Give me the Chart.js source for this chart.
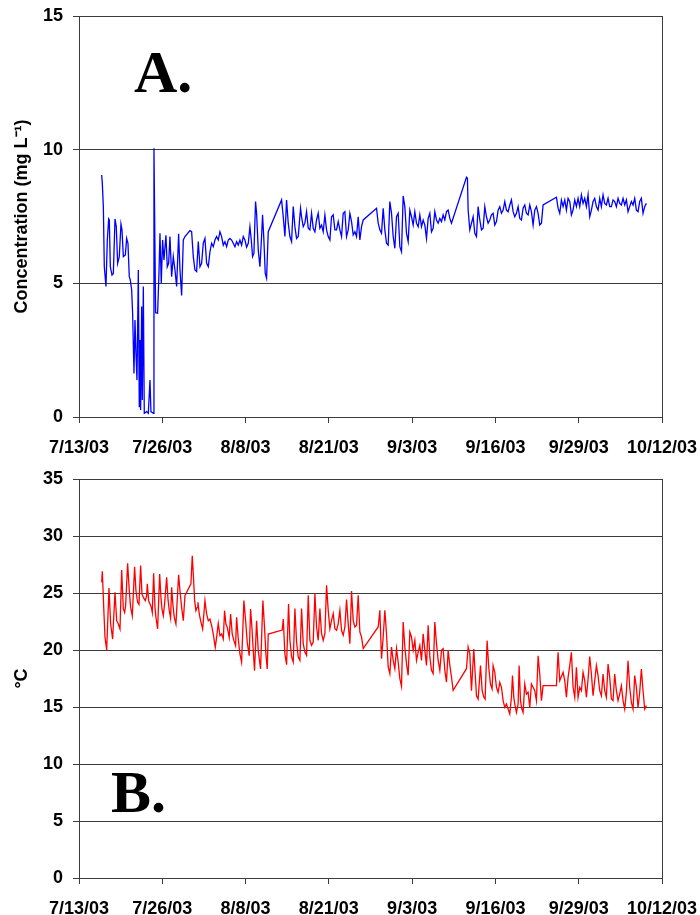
<!DOCTYPE html>
<html>
<head>
<meta charset="utf-8">
<script src="https://cdn.jsdelivr.net/npm/chart.js@4.4.1/dist/chart.umd.min.js"></script>
<style>
  body { margin: 0; background: #fff; }
  #wrap { position: relative; width: 700px; height: 915px; }
  canvas { position: absolute; left: 0; }
  #concChart { top: 0; }
  #tempChart { top: 460px; }
  .panel { position: absolute; font: bold 60px "Liberation Serif", "Times New Roman", serif; line-height: 60px; color: #000; }
</style>
</head>
<body>
<div id="wrap">
  <canvas id="concChart" width="700" height="460"></canvas>
  <canvas id="tempChart" width="700" height="455"></canvas>
  <div class="panel" style="left:134px; top:42px;">A.</div>
  <div class="panel" style="left:111px; top:762px;">B.</div>
</div>
<script>
// x = days since 7/13/03
const tickLabels = ['7/13/03', '7/26/03', '8/8/03', '8/21/03', '9/3/03', '9/16/03', '9/29/03', '10/12/03'];

// panel A: dissolved oxygen, mg/L
const concDays = [
  3.54, 3.64, 3.80, 3.95, 4.21, 4.42, 4.63, 4.73, 4.89, 5.15, 5.36, 5.62, 5.82, 6.03, 6.29, 6.55, 6.71, 6.92, 7.23, 7.44,
  7.64, 7.85, 8.01, 8.22, 8.37, 8.58, 8.74, 8.89, 9.05, 9.26, 9.41, 9.52, 9.62, 9.78, 9.88, 10.04, 10.19, 10.56, 10.82, 11.08,
  11.23, 11.6, 11.7, 11.96, 12.27, 12.48, 12.64, 12.84, 13.05, 13.26, 13.57, 13.78, 13.99, 14.2, 14.46, 14.72, 14.98, 15.24, 15.55, 15.76,
  16.02, 16.28, 16.54, 17.32, 17.58, 17.84, 18.1, 18.36, 18.62, 18.88, 19.14, 19.4, 19.66, 19.92, 20.18, 20.44, 20.7, 20.96, 21.22, 21.48,
  21.74, 22.0, 22.26, 22.52, 22.78, 23.04, 23.3, 23.56, 23.82, 24.08, 24.34, 24.6, 24.86, 25.12, 25.38, 25.64, 25.9, 26.16, 26.42, 26.68,
  26.89, 27.09, 27.3, 27.56, 27.72, 27.98, 28.24, 28.5, 28.65, 28.86, 29.07, 29.28, 29.54, 31.62, 31.88, 32.14, 32.4, 32.66, 32.92, 33.18,
  33.44, 33.7, 33.96, 34.22, 34.58, 34.74, 35.0, 35.26, 35.52, 35.78, 36.04, 36.3, 36.56, 36.82, 37.08, 37.34, 37.6, 37.86, 38.12, 38.38,
  38.64, 38.9, 39.16, 39.42, 39.68, 39.94, 40.2, 40.46, 40.72, 40.98, 41.24, 41.5, 41.76, 42.02, 42.28, 42.54, 42.8, 43.06, 43.32, 43.58,
  43.84, 44.1, 44.36, 46.44, 46.7, 46.96, 47.22, 47.48, 47.74, 48.0, 48.26, 48.52, 48.78, 49.04, 49.3, 49.56, 49.82, 50.08, 50.34, 50.6,
  50.86, 51.12, 51.38, 51.64, 51.9, 52.16, 52.42, 52.68, 52.94, 53.2, 53.46, 53.72, 53.98, 54.24, 54.5, 54.76, 55.02, 55.28, 55.54, 55.8,
  56.06, 56.32, 56.58, 56.84, 57.1, 57.36, 57.62, 57.88, 58.14, 60.48, 60.63, 60.74, 61.0, 61.52, 61.78, 62.04, 62.3, 62.56, 62.82, 63.08,
  63.34, 63.6, 63.86, 64.12, 64.38, 64.64, 64.9, 65.16, 65.42, 65.68, 65.94, 66.2, 66.46, 66.72, 66.98, 67.24, 67.5, 67.76, 68.02, 68.28,
  68.54, 68.8, 69.06, 69.32, 69.58, 69.84, 70.1, 70.36, 70.62, 70.88, 71.14, 71.4, 71.66, 71.92, 72.18, 72.44, 74.52, 74.78, 75.04, 75.3,
  75.56, 75.82, 76.08, 76.34, 76.6, 76.86, 77.12, 77.38, 77.64, 77.9, 78.16, 78.42, 78.68, 78.94, 79.2, 79.46, 79.72, 79.98, 80.24, 80.5,
  80.76, 81.02, 81.28, 81.54, 81.8, 82.06, 82.32, 82.58, 82.84, 83.1, 83.36, 83.62, 83.88, 84.14, 84.4, 84.66, 84.92, 85.18, 85.44, 85.7,
  85.96, 86.22, 86.48, 86.74, 87.0, 87.26, 87.52, 87.78, 88.04, 88.3, 88.56
];
const concVals = [
  9.05, 8.74, 7.87, 5.62, 4.88, 6.62, 7.41, 7.37, 5.62, 5.31, 5.37, 7.41, 7.12, 5.75, 6.0, 7.22, 7.0, 6.0, 6.06, 6.68,
  6.5, 5.25, 5.13, 4.75, 3.88, 1.63, 3.63, 2.38, 1.38, 5.5, 0.39, 2.88, 0.26, 4.13, 0.64, 4.88, 0.14, 0.2, 0.14, 1.38,
  0.2, 0.14, 10.05, 3.9, 3.88, 5.37, 6.87, 5.0, 6.62, 5.87, 6.8, 5.62, 5.75, 6.75, 5.25, 6.0, 5.5, 4.88, 6.85, 5.5,
  4.55, 6.62, 6.75, 6.97, 6.93, 6.0, 5.5, 5.44, 6.56, 5.62, 5.75, 6.5, 6.68, 5.75, 5.62, 6.18, 6.5, 6.37, 6.62, 6.75,
  6.62, 6.93, 6.75, 6.43, 6.56, 6.37, 6.62, 6.68, 6.62, 6.5, 6.37, 6.56, 6.43, 6.62, 6.43, 6.75, 6.62, 6.35, 6.5, 7.12,
  6.62, 6.0, 6.12, 8.06, 7.62, 6.25, 5.62, 6.75, 7.56, 6.62, 5.37, 5.19, 6.93, 8.12, 7.49, 6.75, 8.12, 7.25, 6.75, 6.56,
  7.87, 7.12, 6.68, 6.75, 7.81, 7.49, 7.12, 7.25, 7.68, 7.06, 7.0, 7.62, 7.06, 6.93, 7.37, 7.62, 7.06, 7.18, 6.93, 7.56,
  7.0, 6.75, 6.62, 7.49, 7.56, 7.0, 7.0, 7.31, 7.0, 6.75, 7.62, 7.68, 6.75, 7.0, 7.62, 7.31, 6.81, 6.93, 6.75, 7.49,
  6.62, 7.12, 7.37, 7.81, 7.25, 7.0, 6.87, 7.81, 7.0, 6.5, 6.43, 8.06, 7.62, 6.75, 6.31, 7.49, 7.62, 6.37, 6.18, 8.27,
  7.87, 6.87, 6.56, 7.74, 7.49, 7.18, 7.68, 7.25, 7.12, 7.56, 7.12, 7.37, 7.18, 6.68, 7.43, 7.62, 6.93, 7.06, 7.68, 7.37,
  7.25, 7.43, 7.31, 7.56, 7.37, 7.68, 7.74, 7.43, 7.25, 8.97, 8.93, 7.74, 7.0, 7.49, 6.87, 6.75, 7.87, 7.37, 7.0, 7.06,
  7.87, 7.49, 7.25, 7.37, 7.56, 7.62, 7.18, 7.31, 7.74, 7.87, 7.62, 7.74, 8.06, 7.74, 7.68, 7.93, 8.12, 7.68, 7.49, 7.62,
  7.87, 7.43, 7.37, 7.81, 7.93, 7.62, 7.56, 7.93, 7.68, 7.18, 7.74, 7.87, 7.62, 7.18, 7.25, 7.93, 8.22, 7.81, 7.62, 8.12,
  7.87, 8.12, 7.74, 8.18, 8.06, 7.56, 7.74, 8.12, 7.87, 8.18, 7.87, 8.31, 7.99, 8.18, 7.87, 8.31, 7.49, 7.74, 8.06, 8.18,
  7.87, 7.74, 8.18, 7.87, 8.31, 7.99, 7.93, 8.18, 7.87, 7.87, 8.12, 8.06, 7.87, 8.18, 7.99, 7.93, 8.18, 7.93, 8.12, 7.68,
  7.87, 8.06, 7.93, 8.18, 7.74, 7.68, 8.06, 8.18, 7.62, 7.87, 7.99
];

// panel B: water temperature, deg C
const tempDays = [
  3.54, 3.64, 3.9, 4.06, 4.32, 4.68, 4.94, 5.25, 5.62, 5.88, 6.14, 6.4, 6.66, 6.92, 7.12, 7.28, 7.59, 7.85, 8.06, 8.32,
  8.68, 8.89, 9.15, 9.36, 9.62, 9.83, 10.04, 10.35, 10.56, 10.66, 10.87, 11.08, 11.29, 11.44, 11.65, 11.86, 12.01, 12.27, 12.59, 12.79,
  12.95, 13.16, 13.36, 13.68, 13.89, 14.09, 14.3, 14.46, 14.67, 14.87, 15.13, 15.55, 15.76, 16.02, 16.28, 16.54, 17.47, 17.68, 17.84, 18.05,
  18.25, 18.46, 18.57, 18.77, 18.98, 19.3, 19.66, 19.92, 20.18, 20.44, 20.7, 20.96, 21.27, 21.48, 21.74, 22.0, 22.26, 22.52, 22.72, 22.93,
  23.14, 23.45, 23.66, 23.92, 24.18, 24.44, 24.6, 24.86, 25.12, 25.38, 25.74, 26.05, 26.26, 26.57, 26.78, 26.99, 27.2, 27.4, 27.72, 27.98,
  28.34, 28.7, 28.96, 29.17, 29.38, 29.54, 31.72, 31.88, 32.14, 32.4, 32.71, 32.92, 33.18, 33.44, 33.7, 33.96, 34.22, 34.48, 34.74, 35.0,
  35.26, 35.52, 35.78, 36.04, 36.3, 36.56, 36.82, 37.08, 37.34, 37.6, 37.86, 38.12, 38.38, 38.64, 38.9, 39.16, 39.42, 39.68, 39.94, 40.2,
  40.46, 40.72, 40.98, 41.24, 41.5, 41.76, 42.02, 42.28, 42.54, 42.8, 43.06, 43.32, 43.58, 43.84, 44.1, 44.36, 46.7, 46.96, 47.22, 47.48,
  47.74, 48.0, 48.26, 48.52, 48.78, 49.04, 49.3, 49.56, 49.82, 50.08, 50.34, 50.6, 50.86, 51.12, 51.38, 51.64, 51.9, 52.16, 52.42, 52.68,
  52.94, 53.2, 53.46, 53.72, 53.98, 54.24, 54.5, 54.76, 55.02, 55.28, 55.54, 55.8, 56.06, 56.32, 56.58, 56.84, 57.1, 57.36, 57.62, 57.88,
  58.14, 58.4, 60.48, 60.74, 61.0, 61.26, 61.62, 61.78, 62.04, 62.3, 62.67, 62.93, 63.19, 63.39, 63.7, 63.96, 64.22, 64.48, 64.64, 64.9,
  65.16, 65.42, 65.68, 65.94, 66.2, 66.46, 66.72, 66.98, 67.24, 67.5, 67.66, 67.87, 68.02, 68.28, 68.54, 68.7, 68.91, 69.12, 69.32, 69.58,
  69.84, 70.1, 70.36, 70.62, 70.88, 71.14, 71.4, 71.66, 71.92, 72.18, 72.44, 74.52, 74.78, 75.04, 75.56, 75.82, 76.08, 76.34, 76.6, 76.86,
  77.12, 77.38, 77.64, 77.9, 78.16, 78.42, 78.68, 78.94, 79.2, 79.46, 79.72, 79.98, 80.24, 80.5, 80.76, 81.02, 81.28, 81.54, 81.8, 82.06,
  82.32, 82.58, 82.84, 83.1, 83.36, 83.62, 83.88, 84.14, 84.4, 84.66, 84.92, 85.18, 85.44, 85.7, 85.96, 86.22, 86.48, 86.74, 87.0, 87.26,
  87.52, 87.78, 88.04, 88.3, 88.56
];
const tempVals = [
  25.94, 26.9, 23.16, 21.1, 20.0, 25.44, 22.28, 20.96, 25.06, 22.57, 22.28, 21.84, 27.02, 23.6, 23.3, 23.9, 27.6, 25.2, 23.74, 23.0,
  27.3, 25.2, 24.18, 24.0, 27.4, 24.9, 24.62, 24.33, 24.77, 25.8, 24.33, 24.04, 23.74, 23.3, 26.73, 23.74, 22.87, 21.84, 26.67, 24.62,
  23.6, 23.0, 24.04, 26.37, 24.47, 23.45, 22.8, 25.5, 23.9, 22.87, 22.28, 26.6, 25.2, 23.74, 22.57, 24.77, 25.8, 28.27, 26.67, 24.33,
  23.45, 23.74, 24.18, 23.16, 22.57, 21.84, 24.33, 23.16, 22.57, 22.72, 22.13, 21.4, 20.23, 21.11, 22.34, 21.26, 21.4, 20.96, 23.45, 22.28,
  21.99, 21.11, 23.16, 21.4, 20.82, 20.38, 22.87, 20.96, 19.65, 18.92, 24.33, 22.28, 20.67, 19.5, 23.6, 21.99, 19.94, 18.19, 22.57, 19.94,
  18.33, 24.33, 21.99, 19.65, 18.33, 21.4, 21.75, 22.72, 19.65, 18.71, 24.04, 20.85, 19.39, 18.95, 23.63, 20.7, 19.39, 19.09, 23.63, 20.56,
  19.82, 19.53, 24.8, 20.85, 20.41, 20.7, 24.94, 22.02, 20.85, 23.63, 21.43, 20.85, 21.43, 25.67, 23.48, 21.87, 22.6, 23.19, 21.87, 21.73,
  22.31, 23.48, 21.73, 21.29, 22.02, 24.42, 22.31, 20.56, 25.18, 22.6, 22.02, 22.16, 24.8, 21.58, 21.14, 20.12, 22.02, 23.48, 19.24, 21.14,
  23.48, 21.43, 18.51, 17.92, 20.26, 19.09, 18.36, 20.12, 18.95, 17.49, 16.81, 22.46, 20.26, 18.8, 17.78, 21.58, 21.14, 19.97, 20.85, 19.09,
  19.82, 20.41, 19.09, 21.43, 19.97, 18.65, 22.16, 19.39, 18.22, 17.92, 22.46, 20.56, 19.09, 18.22, 19.97, 20.12, 18.22, 17.19, 19.97, 18.65,
  17.63, 16.46, 18.36, 20.26, 19.68, 16.43, 20.09, 18.48, 15.99, 15.7, 18.63, 16.43, 15.85, 15.7, 20.82, 18.48, 17.02, 16.58, 18.63, 18.04,
  16.73, 16.29, 17.16, 16.73, 15.56, 14.97, 15.26, 14.82, 14.39, 15.85, 17.75, 15.85, 15.26, 14.53, 15.26, 18.63, 15.56, 14.82, 14.53, 17.02,
  16.14, 16.29, 14.97, 17.02, 16.73, 16.43, 15.56, 19.5, 17.89, 15.56, 16.87, 16.87, 19.8, 17.31, 18.04, 17.31, 15.85, 17.6, 18.63, 19.8,
  16.73, 15.85, 18.48, 15.85, 16.73, 16.43, 18.04, 17.31, 15.85, 17.46, 19.42, 17.89, 15.99, 17.31, 18.63, 17.75, 16.43, 15.99, 17.89, 16.43,
  15.85, 18.77, 17.6, 15.7, 15.56, 17.89, 16.43, 15.56, 16.14, 16.87, 15.56, 14.82, 16.29, 19.06, 16.73, 15.41, 14.82, 17.75, 16.73, 14.97,
  16.29, 18.33, 16.43, 14.82, 15.12
];

const axisColor = '#3c3c3c';
const tickFont = { family: '"Liberation Sans", Arial, sans-serif', size: 18, weight: 'bold' };

function buildOptions(yMax, yTitle, padTop, xHeight) {
  return {
    responsive: false,
    animation: false,
    layout: { padding: { top: padTop, right: 0, left: 0, bottom: 0 } },
    plugins: { legend: { display: false }, tooltip: { enabled: false } },
    elements: { point: { radius: 0 }, line: { tension: 0 } },
    scales: {
      x: {
        type: 'linear', min: 0, max: 91,
        // fixed box; label overhang is covered by the side axes
        afterFit: s => { s.height = xHeight; s.paddingLeft = 0; s.paddingRight = 0; },
        ticks: {
          stepSize: 13, autoSkip: false, maxRotation: 0, padding: 14, color: '#000', font: tickFont,
          callback: v => tickLabels[Math.round(v / 13)]
        },
        grid: { drawOnChartArea: false, tickLength: 6, color: axisColor },
        border: { color: axisColor }
      },
      y: {
        min: 0, max: yMax,
        afterFit: s => { s.width = 79; s.paddingTop = 0; s.paddingBottom = 0; },
        ticks: { stepSize: 5, padding: 10, color: '#000', font: tickFont },
        grid: { color: axisColor, tickLength: 6 },
        border: { color: axisColor },
        title: { display: true, text: yTitle, color: '#000', font: tickFont, padding: { top: 11, bottom: 0 } }
      },
      yRight: {
        // only the right frame line; its width keeps room for the last date label
        position: 'right', min: 0, max: yMax,
        afterFit: s => { s.width = 38; s.paddingTop = 0; s.paddingBottom = 0; },
        ticks: { display: false },
        grid: { display: false },
        border: { color: axisColor }
      }
    }
  };
}

new Chart(document.getElementById('concChart'), {
  type: 'line',
  data: {
    datasets: [{
      data: concDays.map((d, i) => ({ x: d, y: concVals[i] })),
      borderColor: '#0000ff',
      borderWidth: 1.3
    }]
  },
  options: buildOptions(15, 'Concentration (mg L⁻¹)', 16, 43)
});

new Chart(document.getElementById('tempChart'), {
  type: 'line',
  data: {
    datasets: [{
      data: tempDays.map((d, i) => ({ x: d, y: tempVals[i] })),
      borderColor: '#ff0000',
      borderWidth: 1.3
    }]
  },
  options: buildOptions(35, '°C', 19, 37)
});
</script>
</body>
</html>
